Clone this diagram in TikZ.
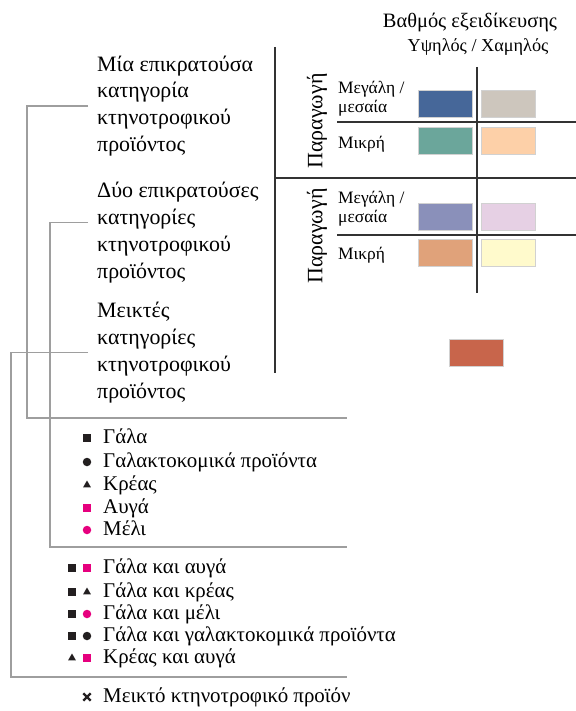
\documentclass[tikz,border=0pt]{standalone}
\usepackage{fontspec}
\setmainfont{Liberation Serif}
\usetikzlibrary{shapes.geometric,shapes.misc}
\definecolor{swblue}{RGB}{70,103,153}
\definecolor{swgrey}{RGB}{205,198,189}
\definecolor{swteal}{RGB}{107,166,155}
\definecolor{swpeach}{RGB}{253,208,168}
\definecolor{swlav}{RGB}{138,144,186}
\definecolor{swlilac}{RGB}{230,208,228}
\definecolor{swtan}{RGB}{224,162,122}
\definecolor{swcream}{RGB}{255,250,204}
\definecolor{swred}{RGB}{200,101,75}
\definecolor{blk}{RGB}{35,31,32}
\definecolor{mag}{RGB}{230,0,126}

\begin{document}
\begin{tikzpicture}[x=1bp,y=-1bp,
  catlabel/.style={anchor=west,align=left,inner xsep=9bp,inner ysep=0pt,font=\fontsize{22}{27}\selectfont},
  leglabel/.style={anchor=base west,inner sep=0pt,font=\fontsize{21}{23}\selectfont},
  sizelabel/.style={anchor=west,align=left,inner sep=0pt,font=\fontsize{17.5}{19}\selectfont},
  prodlabel/.style={rotate=90,inner sep=0pt,font=\fontsize{22}{26}\selectfont},
  swatch/.style={draw=black!18,line width=0.6bp,minimum width=54bp,minimum height=27bp,inner sep=0pt},
  conn/.style={draw=black!38,line width=1.1bp},
  axis/.style={draw=black!80,line width=1.2bp},
  sq/.style={rectangle,fill=#1,minimum size=8bp,inner sep=0pt},
  dot/.style={circle,fill=#1,minimum size=8.5bp,inner sep=0pt},
  tri/.style={regular polygon,regular polygon sides=3,fill=#1,minimum size=9bp,inner sep=0pt},
]
\useasboundingbox (0,0) rectangle (576,711);

\node[font=\fontsize{20.5}{24}\selectfont] (title) at (470,22) {Βαθμός εξειδίκευσης};
\node[font=\fontsize{18.3}{20}\selectfont] (sub) at (478,47) {Υψηλός / Χαμηλός};

\draw[axis] (275,47) -- (275,373);
\draw[axis] (275,178) -- (576,178);
\draw[axis] (477,67) -- (477,293);
\draw[axis] (337,122) -- (576,122);
\draw[axis] (337,235) -- (576,235);

\node[prodlabel] (prod1) at (317,121) {Παραγωγή};
\node[prodlabel] (prod2) at (317,236) {Παραγωγή};
\node[sizelabel] (big1) at (338,99) {Μεγάλη /\\μεσαία};
\node[sizelabel] (small1) at (338,144) {Μικρή};
\node[sizelabel] (big2) at (338,208.5) {Μεγάλη /\\μεσαία};
\node[sizelabel] (small2) at (338,255) {Μικρή};

\node[swatch,fill=swblue] (hibig1) at (445,104) {};
\node[swatch,fill=swgrey] (lobig1) at (508,104) {};
\node[swatch,fill=swteal] (hismall1) at (445,140.5) {};
\node[swatch,fill=swpeach] (losmall1) at (508,140.5) {};
\node[swatch,fill=swlav] (hibig2) at (445,216.5) {};
\node[swatch,fill=swlilac] (lobig2) at (508,216.5) {};
\node[swatch,fill=swtan] (hismall2) at (445,253) {};
\node[swatch,fill=swcream] (losmall2) at (508,253) {};
\node[swatch,fill=swred] (mixsw) at (476,352.5) {};

\node[catlabel] (one) at (88,106) {Μία επικρατούσα\\κατηγορία\\κτηνοτροφικού\\προϊόντος};
\node[catlabel] (two) at (88,232.5) {Δύο επικρατούσες\\κατηγορίες\\κτηνοτροφικού\\προϊόντος};
\node[catlabel] (mix) at (88,352.5) {Μεικτές\\κατηγορίες\\κτηνοτροφικού\\προϊόντος};

\coordinate (b1) at (27,418);
\coordinate (e1) at (347,418);
\coordinate (b2) at (50,547);
\coordinate (e2) at (347,547);
\coordinate (b3) at (11,677);
\coordinate (e3) at (347,677);
\draw[conn] (one.west) -| (b1) -- (e1);
\draw[conn] ([yshift=10bp]two.west) -| (b2) -- (e2);
\draw[conn] (mix.west) -| (b3) -- (e3);

\node[sq=blk] (milk) at (87,438) {};
\node[leglabel] (milklab) at (103,443) {Γάλα};
\node[dot=blk] (dairy) at (87,462) {};
\node[leglabel] (dairylab) at (103,467) {Γαλακτοκομικά προϊόντα};
\node[tri=blk] (meat) at (87,485) {};
\node[leglabel] (meatlab) at (103,490) {Κρέας};
\node[sq=mag] (eggs) at (87,508) {};
\node[leglabel] (eggslab) at (103,513) {Αυγά};
\node[dot=mag] (honey) at (87,530) {};
\node[leglabel] (honeylab) at (103,535) {Μέλι};

\node[sq=blk] (me1) at (72,568) {};
\node[sq=mag] (me2) at (87,568) {};
\node[leglabel] (melab) at (103,573) {Γάλα και αυγά};
\node[sq=blk] (mm1) at (72,592) {};
\node[tri=blk] (mm2) at (87,592) {};
\node[leglabel] (mmlab) at (103,597) {Γάλα και κρέας};
\node[sq=blk] (mh1) at (72,614) {};
\node[dot=mag] (mh2) at (87,614) {};
\node[leglabel] (mhlab) at (103,619) {Γάλα και μέλι};
\node[sq=blk] (md1) at (72,636) {};
\node[dot=blk] (md2) at (87,636) {};
\node[leglabel] (mdlab) at (103,641) {Γάλα και γαλακτοκομικά προϊόντα};
\node[tri=blk] (ke1) at (72,658) {};
\node[sq=mag] (ke2) at (87,658) {};
\node[leglabel] (kelab) at (103,663) {Κρέας και αυγά};

\node[cross out,draw=blk,line width=2.4bp,minimum size=5bp,inner sep=0pt] (mixed) at (87,697) {};
\node[leglabel] (mixedlab) at (103,702) {Μεικτό κτηνοτροφικό προϊόν};
\end{tikzpicture}
\end{document}
